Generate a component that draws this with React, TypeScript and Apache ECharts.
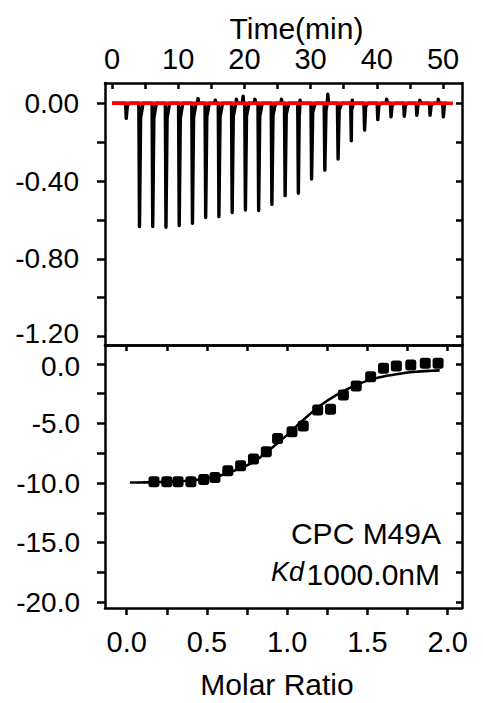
import React, { useEffect, useRef } from "react";
import * as echarts from "echarts";

// ---- Raw thermogram (top panel) ----
const peakTimes = [2.1, 4.1, 6.1, 8.1, 10.1, 12.1, 14.1, 16.1, 18.1, 20.1, 22.1, 24.1, 26.1, 28.1, 30.1, 32.1, 34.1, 36.1, 38.1, 40.1, 42.1, 44.1, 46.0, 48.0, 50.0];
const peakDepths = [-0.078, -0.634, -0.634, -0.638, -0.629, -0.617, -0.588, -0.583, -0.562, -0.549, -0.552, -0.52, -0.475, -0.463, -0.39, -0.344, -0.287, -0.193, -0.138, -0.084, -0.07, -0.067, -0.062, -0.062, -0.07];
const noiseTimes = [13.0, 15.6, 18.8, 19.8, 21.6, 25.6, 28.4, 32.6, 36.3, 41.5, 46.5, 49.3];
const noiseValues = [0.024, 0.016, 0.02, 0.036, 0.02, 0.02, 0.015, 0.046, 0.016, 0.02, 0.015, 0.02];
const traceStart = 0;
const traceEnd = 50.3;
const baselineTimes = [0, 51.5];
const baselineValues = [0, 0];

// ---- Integrated heats (bottom panel) ----
const molarRatio = [0.17, 0.25, 0.32, 0.4, 0.48, 0.55, 0.63, 0.71, 0.79, 0.87, 0.94, 1.03, 1.1, 1.19, 1.27, 1.35, 1.43, 1.52, 1.6, 1.68, 1.77, 1.86, 1.94];
const heat = [-9.89, -9.89, -9.89, -9.89, -9.69, -9.52, -8.96, -8.54, -7.98, -7.37, -6.25, -5.69, -5.21, -3.87, -3.81, -2.61, -1.85, -1.07, -0.36, -0.17, -0.08, 0.06, 0.06];
const fitRatio = [0.02, 0.1, 0.2, 0.3, 0.4, 0.5, 0.6, 0.7, 0.8, 0.9, 1.0, 1.1, 1.2, 1.3, 1.4, 1.5, 1.6, 1.7, 1.8, 1.9, 1.95];
const fitHeat = [-9.95, -9.94, -9.92, -9.87, -9.78, -9.6, -9.3, -8.8, -8.15, -7.1, -5.95, -4.7, -3.55, -2.65, -1.95, -1.4, -1.05, -0.82, -0.66, -0.57, -0.54];

// ---- Ticks ----
const timeTicks = [0, 5, 10, 15, 20, 25, 30, 35, 40, 45, 50];
const timeLabels = [0, 10, 20, 30, 40, 50];
const powerTicks = [0, -0.2, -0.4, -0.6, -0.8, -1.0, -1.2];
const powerLabels = [0, -0.4, -0.8, -1.2];
const ratioTicks = [0, 0.25, 0.5, 0.75, 1.0, 1.25, 1.5, 1.75, 2.0];
const ratioLabels = [0, 0.5, 1.0, 1.5, 2.0];
const heatTicks = [0, -2.5, -5, -7.5, -10, -12.5, -15, -17.5, -20];
const heatLabels = [0, -5, -10, -15, -20];

const FONT = "'Liberation Sans', Arial, Helvetica, sans-serif";

function buildTrace(): number[][] {
  const pts: number[][] = [[traceStart, 0]];
  peakTimes.forEach((t, i) => {
    const d = peakDepths[i];
    pts.push([t - 0.05, 0], [t + 0.05, d], [t + 0.22, d * 0.12], [t + 0.6, 0]);
  });
  noiseTimes.forEach((t, i) => {
    pts.push([t - 0.1, 0], [t, noiseValues[i]], [t + 0.1, 0]);
  });
  pts.push([traceEnd, 0]);
  pts.sort((a, b) => a[0] - b[0]);
  return pts;
}

const lineW = 2.5;
const black = "#000";

function axisBase(extra: any) {
  return {
    type: "value",
    splitLine: { show: false },
    axisLine: { show: true, onZero: false, lineStyle: { color: black, width: lineW } },
    ...extra,
  };
}

export default function App() {
  const ref = useRef<HTMLDivElement>(null);
  useEffect(() => {
    if (!ref.current) return;
    const chart = echarts.init(ref.current, null, { renderer: "svg" });
    const labelStyle = { fontSize: 28, lineHeight: 24, color: black, fontFamily: FONT };
    const richBase = { fontSize: 28, color: black, fontFamily: FONT, lineHeight: 24 };
    const tMin = -1.06, tMax = 52.87;
    const pMin = -1.243, pMax = 0.104;
    const rMin = -0.135, rMax = 2.089;
    const hMin = -20.48, hMax = 1.59;
    const option: any = {
      animation: false,
      backgroundColor: "#fff",
      grid: [
        { left: 105, top: 83, width: 357, height: 262 },
        { left: 105, top: 345, width: 357, height: 263 },
      ],
      xAxis: [
        axisBase({
          gridIndex: 0, position: "top", min: tMin, max: tMax,
          axisTick: { show: true, inside: true, length: 6, lineStyle: { color: black, width: lineW }, customValues: timeTicks },
          axisLabel: { show: true, customValues: timeLabels, margin: 12, ...labelStyle, fontSize: 29, formatter: (v: number) => String(Math.round(v)) },
          name: "Time(min)", nameLocation: "middle", nameGap: 40,
          nameTextStyle: { fontSize: 30, color: black, fontFamily: FONT, padding: [0, 0, 0, 26] },
        }),
        axisBase({
          gridIndex: 0, position: "bottom", min: tMin, max: tMax,
          axisTick: { show: false }, axisLabel: { show: false },
        }),
        axisBase({
          gridIndex: 1, position: "bottom", min: rMin, max: rMax,
          axisTick: { show: true, inside: false, length: 7, lineStyle: { color: black, width: lineW }, customValues: ratioTicks },
          axisLabel: { show: true, customValues: ratioLabels, margin: 22, ...labelStyle, fontSize: 29, formatter: (v: number) => v.toFixed(1) },
          name: "Molar Ratio", nameLocation: "middle", nameGap: 61,
          nameTextStyle: { fontSize: 30, color: black, fontFamily: FONT, padding: [0, 13, 0, 0] },
        }),
        axisBase({
          gridIndex: 1, position: "top", min: rMin, max: rMax,
          axisTick: { show: true, inside: true, length: 6, lineStyle: { color: black, width: lineW }, customValues: ratioTicks },
          axisLabel: { show: false },
        }),
      ],
      yAxis: [
        axisBase({
          gridIndex: 0, position: "left", min: pMin, max: pMax,
          axisTick: { show: true, inside: false, length: 8, lineStyle: { color: black, width: lineW }, customValues: powerTicks },
          axisLabel: {
            show: true, customValues: powerLabels, margin: 26, ...labelStyle,
            formatter: (v: number) => {
              const s = (Math.abs(v) < 1e-9 ? 0 : v).toFixed(2);
              return v < -1.1 ? `{up|${s}}` : s;
            },
            rich: { up: { ...richBase, padding: [0, 0, 6, 0] } },
          },
        }),
        axisBase({
          gridIndex: 0, position: "right", min: pMin, max: pMax,
          axisTick: { show: true, inside: true, length: 6, lineStyle: { color: black, width: lineW }, customValues: powerTicks },
          axisLabel: { show: false },
        }),
        axisBase({
          gridIndex: 1, position: "left", min: hMin, max: hMax,
          axisTick: { show: true, inside: false, length: 8, lineStyle: { color: black, width: lineW }, customValues: heatTicks },
          axisLabel: {
            show: true, customValues: heatLabels, margin: 25, ...labelStyle,
            formatter: (v: number) => {
              const s = (Math.abs(v) < 1e-9 ? 0 : v).toFixed(1);
              return Math.abs(v) < 1e-9 ? `{dn|${s}}` : s;
            },
            rich: { dn: { ...richBase, padding: [6, 0, 0, 0] } },
          },
        }),
        axisBase({
          gridIndex: 1, position: "right", min: hMin, max: hMax,
          axisTick: { show: true, inside: true, length: 6, lineStyle: { color: black, width: lineW }, customValues: heatTicks },
          axisLabel: { show: false },
        }),
      ],
      series: [
        {
          name: "raw", type: "line", xAxisIndex: 0, yAxisIndex: 0, data: buildTrace(),
          showSymbol: false, symbol: "none", lineStyle: { color: black, width: 3.4, join: "round" }, z: 2,
        },
        {
          name: "baseline", type: "line", xAxisIndex: 0, yAxisIndex: 0,
          data: baselineTimes.map((t, i) => [t, baselineValues[i]]),
          showSymbol: false, symbol: "none", lineStyle: { color: "#ff0000", width: 3.5 }, z: 3,
        },
        {
          name: "fit", type: "line", xAxisIndex: 2, yAxisIndex: 2,
          data: fitRatio.map((x, i) => [x, fitHeat[i]]),
          smooth: 0.3, showSymbol: false, symbol: "none", lineStyle: { color: black, width: 2.6 }, z: 2,
        },
        {
          name: "heats", type: "scatter", xAxisIndex: 2, yAxisIndex: 2,
          data: molarRatio.map((x, i) => [x, heat[i]]),
          symbol: "roundRect", symbolSize: 11, itemStyle: { color: black, opacity: 1 }, z: 3,
        },
      ],
      graphic: [
        { type: "text", x: 441, y: 533, style: { text: "CPC M49A", fontSize: 30, fontFamily: FONT, fill: black, align: "right", verticalAlign: "middle" } },
        { type: "text", x: 304, y: 572, style: { text: "Kd", fontSize: 27, fontStyle: "italic", fontFamily: FONT, fill: black, align: "right", verticalAlign: "middle" } },
        { type: "text", x: 440, y: 574, style: { text: "1000.0nM", fontSize: 30, fontFamily: FONT, fill: black, align: "right", verticalAlign: "middle" } },
      ],
    };
    chart.setOption(option);
    return () => chart.dispose();
  }, []);
  return <div ref={ref} style={{ position: "fixed", left: 0, top: 0, width: 483, height: 703, background: "#fff" }} />;
}
